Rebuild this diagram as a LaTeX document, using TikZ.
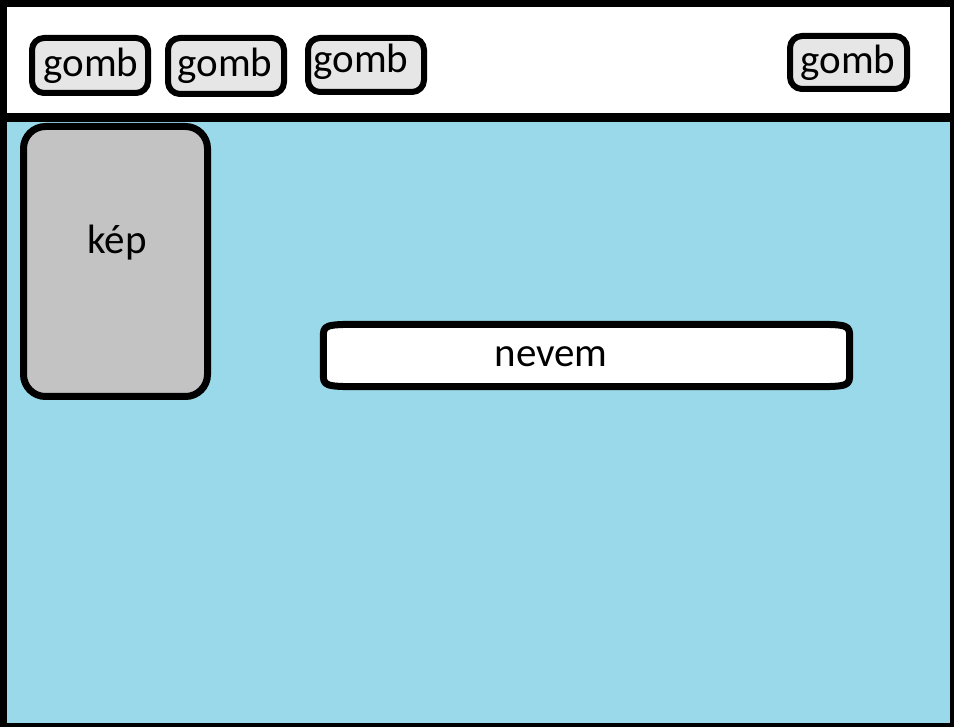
\documentclass[tikz,border=0pt]{standalone}
\usepackage{fontspec}
\setmainfont{Carlito}
\usetikzlibrary{calc}
\definecolor{skyfill}{HTML}{99D9EA}
\definecolor{btnfill}{HTML}{E6E6E6}
\definecolor{picfill}{HTML}{C3C3C3}
\begin{document}
\begin{tikzpicture}[x=1pt,y=-1pt,
  btn/.style={draw=black,line width=6pt,fill=btnfill,rounded corners=12pt,inner sep=0pt,minimum width=116pt,minimum height=55pt},
  lbl/.style={font=\fontsize{41}{42}\selectfont,text=black,inner sep=0pt},
  picbox/.style={draw=black,line width=7pt,fill=picfill,rounded corners=22pt,minimum width=184pt,minimum height=270pt,inner sep=0pt},
  namebox/.style={inner sep=0pt,minimum width=526pt,minimum height=62pt},
  outline/.style={draw=black,line width=7pt,fill=white,line join=round}]
\useasboundingbox (0,0) rectangle (954,727);
% frame
\fill[black] (0,0) rectangle (954,727);
\fill[white] (7,7) rectangle (950,113);
\fill[skyfill] (7,122) rectangle (950,723);
% buttons
\node[btn] (b1) at (90,65.5) {};
\node[btn,minimum height=56pt] (b2) at (226,66) {};
\node[btn,minimum height=54pt] (b3) at (366,65) {};
\node[btn,minimum width=117pt,minimum height=53pt] (b4) at (848.5,62.5) {};
\node[lbl] (t1) at (91,66) {gomb};
\node[lbl] (t2) at (225,66) {gomb};
\node[lbl] (t3) at (361,62) {gomb};
\node[lbl] (t4) at (848,63) {gomb};
% picture box
\node[picbox] (kep) at (115.5,261.5) {};
\node[lbl] (kept) at (117,243) {kép};
% name box
\node[namebox] (nevbox) at (586.5,355.5) {};
\draw[outline]
  ($(nevbox.north west)+(45,0)$) -- ($(nevbox.north east)+(-45,0)$)
  .. controls (nevbox.north east) .. ($(nevbox.north east)+(0,14)$)
  -- ($(nevbox.south east)+(0,-14)$)
  .. controls (nevbox.south east) .. ($(nevbox.south east)+(-45,0)$)
  -- ($(nevbox.south west)+(45,0)$)
  .. controls (nevbox.south west) .. ($(nevbox.south west)+(0,-14)$)
  -- ($(nevbox.north west)+(0,14)$)
  .. controls (nevbox.north west) .. cycle;
\node[lbl] (nevt) at (551,357) {nevem};
\end{tikzpicture}
\end{document}
